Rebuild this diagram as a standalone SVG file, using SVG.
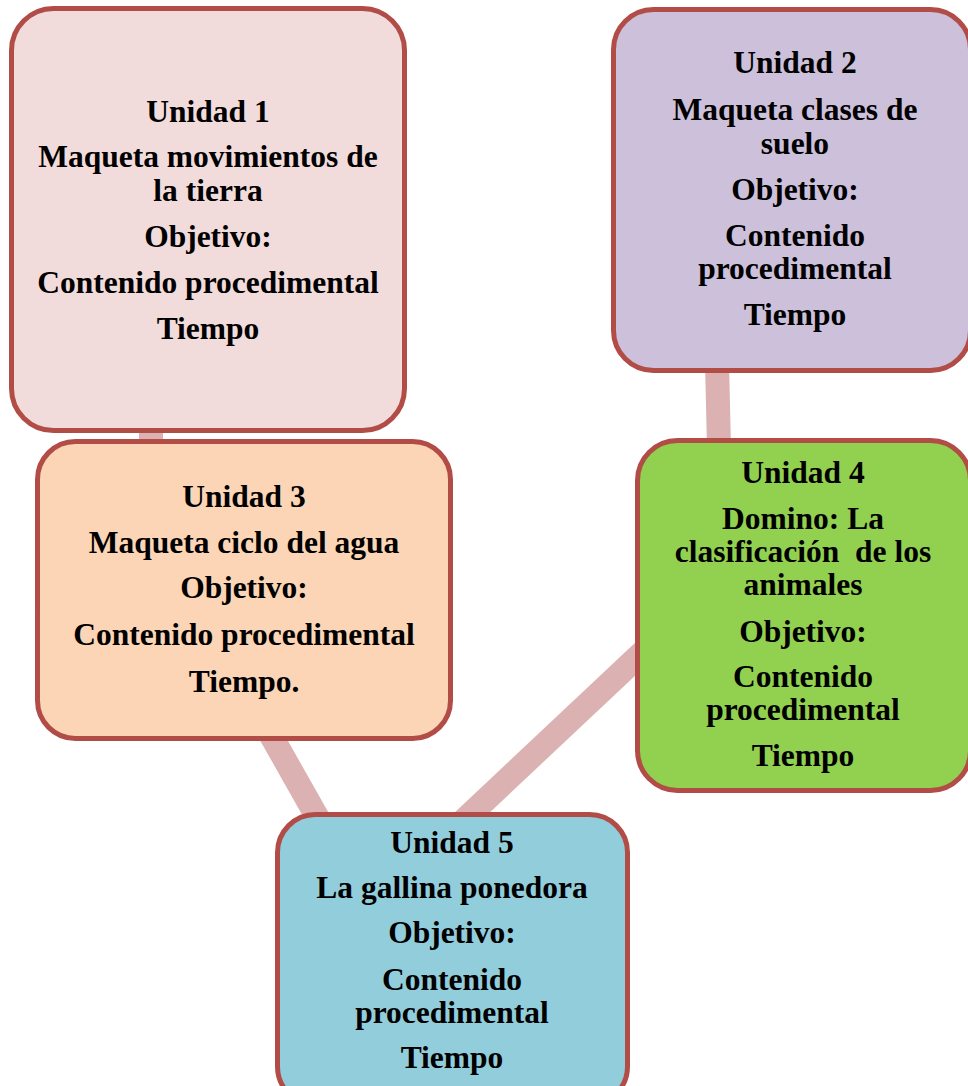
<svg xmlns="http://www.w3.org/2000/svg" width="968" height="1086" viewBox="0 0 968 1086">
<style>
.box{stroke:#b24c47;stroke-width:5}
.con{stroke:#dbb1b1;stroke-width:24;fill:none}
text{font-family:"Liberation Serif","Times New Roman",serif;font-weight:bold;font-size:31.5px;fill:#000;text-anchor:middle;white-space:pre}
</style>
<rect width="968" height="1086" fill="#ffffff"/>
<g id="connectors">
<line class="con" x1="151" y1="422" x2="151" y2="448" stroke-width="23"/>
<line class="con" x1="717" y1="362" x2="719" y2="448"/>
<line class="con" x1="268" y1="730" x2="320" y2="822"/>
<line class="con" x1="646" y1="649" x2="461" y2="823"/>
</g>
<g id="node1">
<rect class="box" x="11.5" y="8.5" width="393" height="422" rx="42" fill="#f2dcdb"/>
<text x="208" y="122">Unidad 1</text>
<text x="208" y="167">Maqueta movimientos de</text>
<text x="208" y="201">la tierra</text>
<text x="208" y="247">Objetivo:</text>
<text x="208" y="293">Contenido procedimental</text>
<text x="208" y="339">Tiempo</text>
</g>
<g id="node2">
<rect class="box" x="613.5" y="9.5" width="357" height="361" rx="40" fill="#ccc0da"/>
<text x="795" y="73">Unidad 2</text>
<text x="795" y="120">Maqueta clases de</text>
<text x="795" y="154">suelo</text>
<text x="795" y="200">Objetivo:</text>
<text x="795" y="246">Contenido</text>
<text x="795" y="279">procedimental</text>
<text x="795" y="325">Tiempo</text>
</g>
<g id="node3">
<rect class="box" x="37.5" y="441.5" width="413" height="297" rx="38" fill="#fbd5b5"/>
<text x="244" y="507">Unidad 3</text>
<text x="244" y="553">Maqueta ciclo del agua</text>
<text x="244" y="598">Objetivo:</text>
<text x="244" y="645">Contenido procedimental</text>
<text x="244" y="692">Tiempo.</text>
</g>
<g id="node4">
<rect class="box" x="637.5" y="440.5" width="333" height="350" rx="40" fill="#92d050"/>
<text x="803" y="483">Unidad 4</text>
<text x="803" y="529">Domino: La</text>
<text x="803" y="562">clasificación  de los</text>
<text x="803" y="595">animales</text>
<text x="803" y="642">Objetivo:</text>
<text x="803" y="687">Contenido</text>
<text x="803" y="720">procedimental</text>
<text x="803" y="766">Tiempo</text>
</g>
<g id="node5">
<rect class="box" x="277.5" y="814.5" width="350" height="290" rx="38" fill="#92cddc"/>
<text x="452" y="853">Unidad 5</text>
<text x="452" y="898">La gallina ponedora</text>
<text x="452" y="943">Objetivo:</text>
<text x="452" y="990">Contenido</text>
<text x="452" y="1023">procedimental</text>
<text x="452" y="1068">Tiempo</text>
</g>
</svg>
